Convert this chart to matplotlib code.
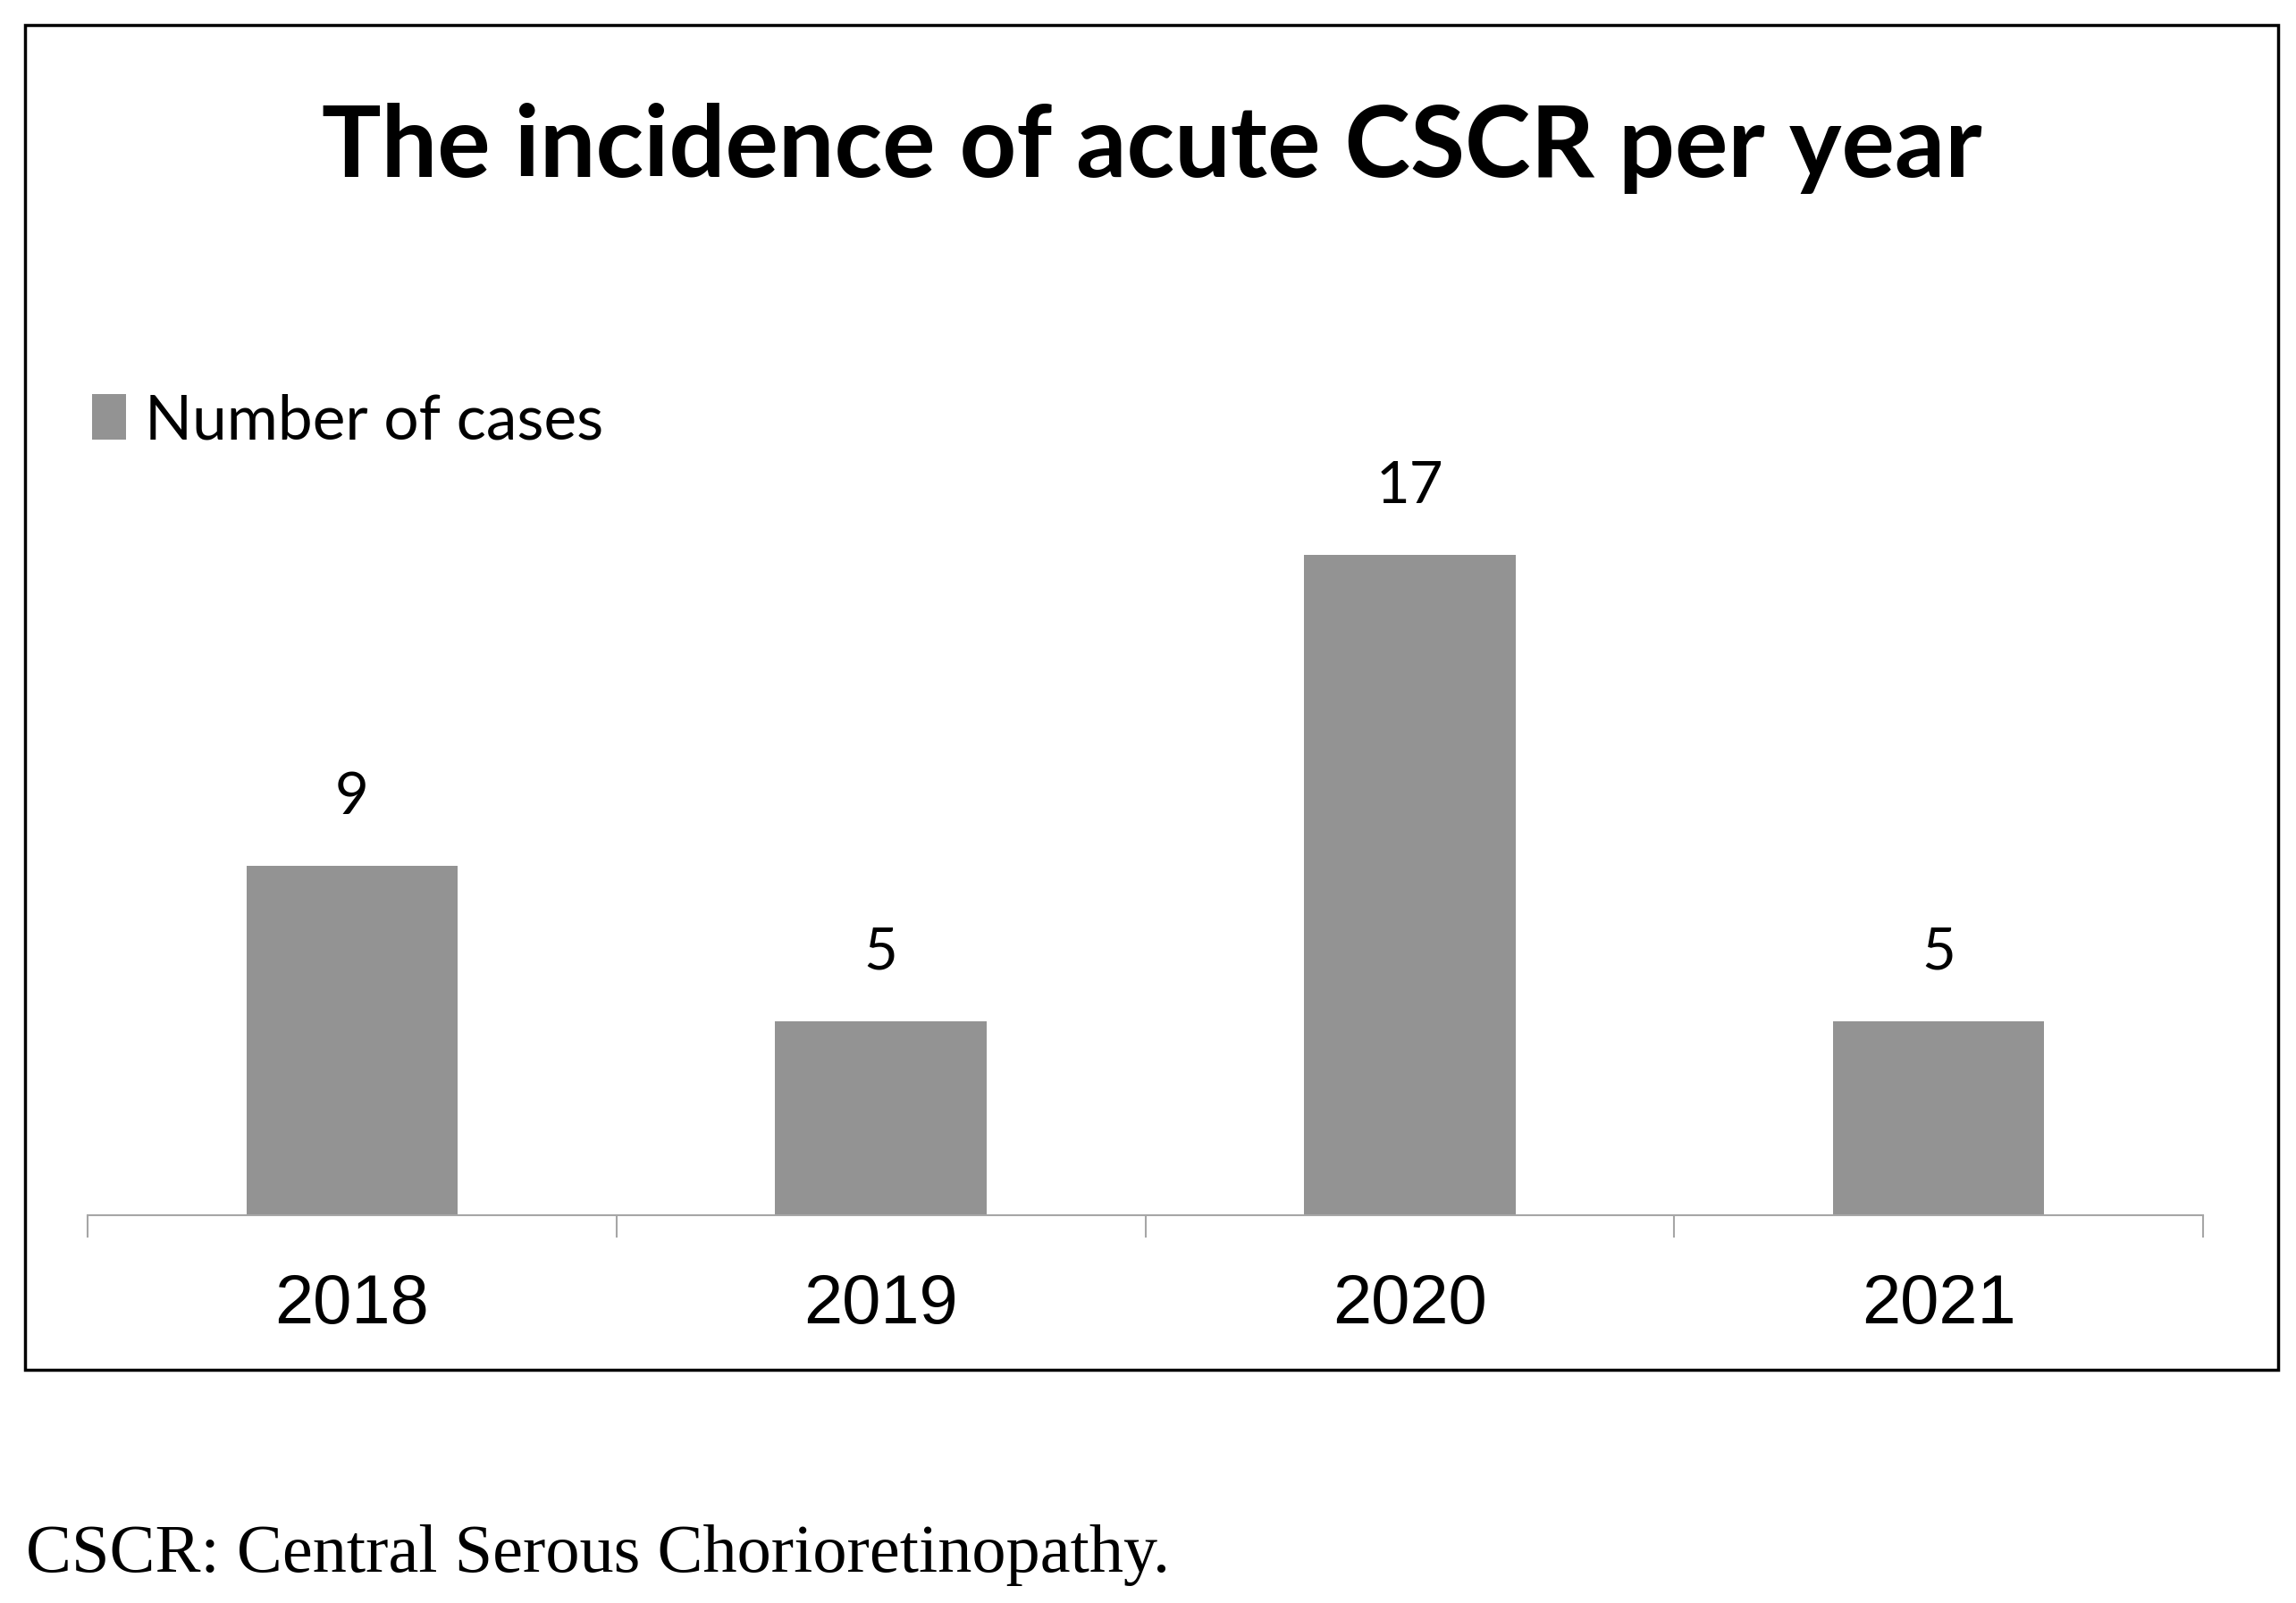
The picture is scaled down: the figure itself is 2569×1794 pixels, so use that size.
import matplotlib
matplotlib.use("Agg")
import matplotlib.pyplot as plt
from matplotlib.patches import Rectangle

# data
years = ["2018", "2019", "2020", "2021"]
cases = [9, 5, 17, 5]

title = "The incidence of acute CSCR per year"
series_name = "Number of cases"
footnote = "CSCR: Central Serous Chorioretinopathy."

bar_color = "#939393"
axis_color = "#a6a6a6"

W, H = 2569, 1794
fig = plt.figure(figsize=(W / 100, H / 100), dpi=100)
fig.patch.set_facecolor("white")

# outer frame of the chart
fig.add_artist(Rectangle((28 / W, 1 - 1533 / H), (2549 - 28) / W, (1533 - 28) / H,
                         transform=fig.transFigure, fill=False, edgecolor="black", linewidth=2.5))

ax = fig.add_axes([98 / W, 1 - 1360 / H, (2465 - 98) / W, (1360 - 491) / H])
x = list(range(len(years)))
bars = ax.bar(x, cases, width=0.40, color=bar_color, label=series_name, zorder=2)
ax.set_xlim(-0.5, len(years) - 0.5)
ax.set_ylim(0, 20)

for s in ["top", "right", "left"]:
    ax.spines[s].set_visible(False)
ax.spines["bottom"].set_color(axis_color)
ax.spines["bottom"].set_linewidth(1.5)
ax.set_yticks([])

ax.set_xticks(x)
ax.set_xticklabels(years, fontfamily="Liberation Sans", fontsize=56)
ax.tick_params(axis="x", which="major", length=0, pad=46)
ax.set_xticks([i - 0.5 for i in range(len(years) + 1)], minor=True)
ax.tick_params(axis="x", which="minor", length=18, width=1.5, color=axis_color)

for b, v in zip(bars, cases):
    ax.annotate(str(v), (b.get_x() + b.get_width() / 2, v), xytext=(0, 34),
                textcoords="offset points", ha="center", va="bottom",
                fontfamily="Lato", fontsize=47)

ax.legend(loc="upper left", bbox_to_anchor=(103 / W, 1 - 440 / H), bbox_transform=fig.transFigure,
          frameon=False, prop={"family": "Lato", "size": 50}, handlelength=0.55, handleheight=0.75,
          handletextpad=0.3, borderaxespad=0, borderpad=0)

fig.text(787 * 1.638 / W, 1 - 166 / H, title, ha="center", va="center",
         fontfamily="Lato", fontweight="bold", fontsize=80)

fig.text(29 / W, 1 - 1740 / H, footnote, ha="left", va="center",
         fontfamily="Liberation Serif", fontsize=55)

fig.savefig("out.png", dpi=100)
